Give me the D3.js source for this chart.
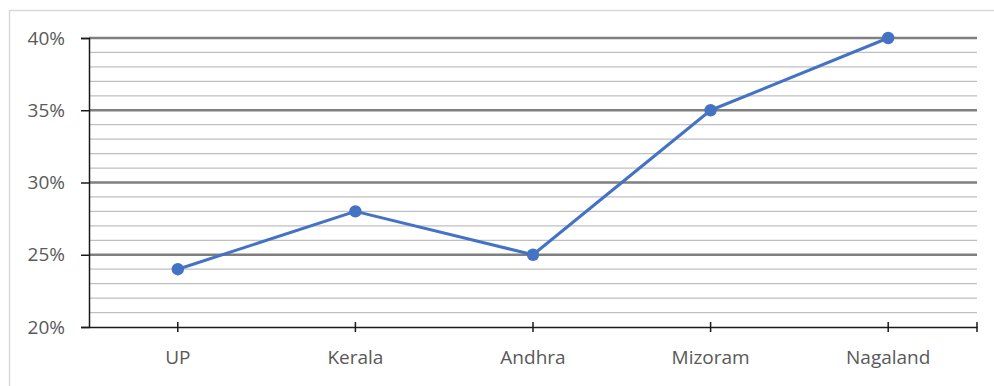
<!DOCTYPE html>
<html><head><meta charset="utf-8">
<script src="https://cdn.jsdelivr.net/npm/d3@7"></script>
<style>html,body{margin:0;padding:0;background:#fff;}svg{display:block;}</style>
</head><body>
<svg id="c" width="994" height="386"></svg>
<script>
const categories = ["UP", "Kerala", "Andhra", "Mizoram", "Nagaland"];
const values = [0.24, 0.28, 0.25, 0.35, 0.40];
const majorTicks = [0.20, 0.25, 0.30, 0.35, 0.40];
const minorTicks = [0.21,0.22,0.23,0.24,0.26,0.27,0.28,0.29,0.31,0.32,0.33,0.34,0.36,0.37,0.38,0.39];

const svg = d3.select("#c");
const L = 89, R = 977, T = 38, B = 327;
const font = "'Open Sans', sans-serif";

// outer border
svg.append("rect").attr("x", 9.5).attr("y", 10.5).attr("width", 994).attr("height", 400)
  .attr("fill", "none").attr("stroke", "#d9d9d9").attr("stroke-width", 1.5);

const x = d3.scaleBand().domain(categories).range([L, R]).padding(0);
const y = d3.scaleLinear().domain([0.20, 0.40]).range([B, T]);

// minor gridlines
svg.append("g").selectAll("line").data(minorTicks).join("line")
  .attr("x1", L).attr("x2", R).attr("y1", d => y(d)).attr("y2", d => y(d))
  .attr("stroke", "#bfbfbf").attr("stroke-width", 1.2);
// major gridlines
svg.append("g").selectAll("line").data(majorTicks.filter(d => d > 0.20)).join("line")
  .attr("x1", L).attr("x2", R).attr("y1", d => y(d)).attr("y2", d => y(d))
  .attr("stroke", "#7f7f7f").attr("stroke-width", 2.5);

// y axis
const yAxis = svg.append("g").attr("transform", `translate(${L},0)`)
  .call(d3.axisLeft(y).tickValues(majorTicks).tickFormat(d3.format(".0%")).tickSize(8).tickPadding(16));
yAxis.select(".domain").attr("stroke", "#1a1a1a").attr("stroke-width", 1.5);
yAxis.selectAll(".tick line").attr("stroke", "#1a1a1a").attr("stroke-width", 1.5);
yAxis.selectAll("text").attr("font-family", font).attr("font-size", 19).attr("fill", "#595959");

// x axis
const xAxis = svg.append("g").attr("transform", `translate(0,${B})`)
  .call(d3.axisBottom(x).tickSize(0).tickPadding(24));
xAxis.select(".domain").attr("stroke", "#1a1a1a").attr("stroke-width", 1.5);
xAxis.selectAll("text").attr("font-family", font).attr("font-size", 19).attr("fill", "#595959");
// cross tick marks at category centers and right end
const tickPos = categories.map(c => x(c) + x.bandwidth() / 2).concat([R]);
svg.append("g").selectAll("line").data(tickPos).join("line")
  .attr("x1", d => d).attr("x2", d => d).attr("y1", B - 5).attr("y2", B + 5)
  .attr("stroke", "#1a1a1a").attr("stroke-width", 1.5);

// line series
const cx = (d, i) => x(categories[i]) + x.bandwidth() / 2;
svg.append("path").datum(values)
  .attr("d", d3.line().x(cx).y(d => y(d)))
  .attr("fill", "none").attr("stroke", "#4472c4").attr("stroke-width", 3)
  .attr("stroke-linejoin", "round");
svg.append("g").selectAll("circle").data(values).join("circle")
  .attr("cx", cx).attr("cy", d => y(d)).attr("r", 6.2).attr("fill", "#4472c4");
</script>
</body></html>
